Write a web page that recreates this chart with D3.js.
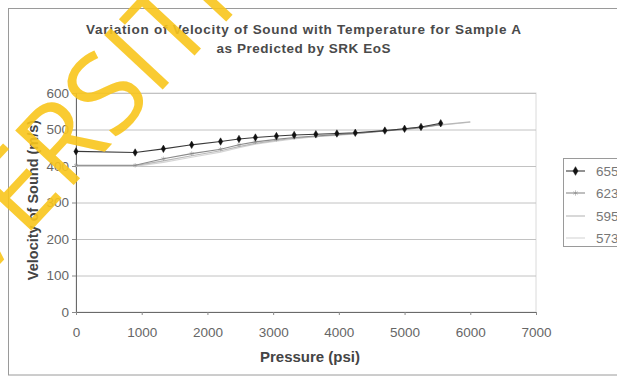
<!DOCTYPE html>
<html>
<head>
<meta charset="utf-8">
<script src="https://cdn.jsdelivr.net/npm/d3@7"></script>
<style>
  body { margin: 0; background: #fff; }
  svg { display: block; font-family: "Liberation Sans", Arial, sans-serif; }
</style>
</head>
<body>
<svg id="chart" width="617" height="377"></svg>
<script>
// pressures (psi)
const pressureA = [0, 900, 1330, 1760, 2200, 2480, 2730, 3050, 3320, 3650, 3970, 4250, 4700, 5000, 5250, 5550];
const pressureB = [0, 900, 1330, 1760, 2200, 2480, 2730, 3050, 3320, 3650, 3970, 4250, 4700, 5000, 5500, 6000];

// velocity of sound (m/s) per temperature
const v655 = [440, 437, 447, 458, 467, 474, 478, 482, 485, 487, 489, 491, 497, 502, 507, 517];
const v623 = [402, 402, 420, 434, 446, 458, 466, 473, 478, 482, 486, 489, 496, 500, 505, 514];
const v595 = [401, 401, 414, 428, 442, 453, 462, 470, 476, 481, 485, 489, 497, 502, 512, 521];
const v573 = [399, 399, 410, 424, 438, 450, 460, 468, 474, 480, 484, 488, 496, 501, 511, 520];

const seriesNames = ["655 R", "623 R", "595 R", "573 R"];
const titleLines = ["Variation of Velocity of Sound with Temperature for Sample A", "as Predicted by SRK EoS"];
const xTicks = [0, 1000, 2000, 3000, 4000, 5000, 6000, 7000];
const yTicks = [0, 100, 200, 300, 400, 500, 600];

const series = [
  { name: seriesNames[0], p: pressureA, v: v655, color: "#3a3a3a", marker: d3.symbolDiamond, mcolor: "#111", msize: 16 },
  { name: seriesNames[1], p: pressureA, v: v623, color: "#8a8a8a", marker: d3.symbolAsterisk || d3.symbolCross, mcolor: "#888", msize: 14 },
  { name: seriesNames[2], p: pressureB, v: v595, color: "#b8b8b8", marker: null },
  { name: seriesNames[3], p: pressureB, v: v573, color: "#d6d6d6", marker: null }
];

const svg = d3.select("#chart");

// outer frame
svg.append("rect").attr("x", 8.5).attr("y", 8.5).attr("width", 640).attr("height", 366.5)
  .attr("fill", "#fff").attr("stroke", "#9a9a9a");

const x = d3.scaleLinear().domain([0, 7000]).range([76, 536]);
const y = d3.scaleLinear().domain([0, 600]).range([312, 93]);

// plot area border
svg.append("rect").attr("x", 76).attr("y", 93).attr("width", 460).attr("height", 219)
  .attr("fill", "none").attr("stroke", "#dadada");

// gridlines
svg.append("g").attr("transform", "translate(76,0)")
  .call(d3.axisLeft(y).tickValues(yTicks).tickSize(-460).tickFormat(""))
  .call(g => g.select(".domain").remove())
  .call(g => g.selectAll("line").attr("stroke", "#c2c2c2"));

// axes
const yAxis = svg.append("g").attr("transform", "translate(76,0)")
  .call(d3.axisLeft(y).tickValues(yTicks).tickSize(4).tickPadding(3));
const xAxis = svg.append("g").attr("transform", "translate(0,312)")
  .call(d3.axisBottom(x).tickValues(xTicks).tickSize(3).tickPadding(12).tickFormat(d3.format("d")));
[yAxis, xAxis].forEach(a => {
  a.select(".domain").attr("stroke", "#6a6a6a");
  a.selectAll(".tick line").attr("stroke", "#8a8a8a");
  a.selectAll(".tick text").attr("fill", "#666").style("font-size", "13.5px");
});

// series lines and markers
const line = d3.line().x(d => x(d[0])).y(d => y(d[1]));
series.slice().reverse().forEach(s => {
  const pts = s.p.map((p, i) => [p, s.v[i]]);
  svg.append("path").datum(pts).attr("d", line)
    .attr("fill", "none").attr("stroke", s.color).attr("stroke-width", 1.1);
  if (s.marker) {
    svg.append("g").selectAll("path").data(pts).join("path")
      .attr("transform", d => `translate(${x(d[0])},${y(d[1])})`)
      .attr("d", d3.symbol().type(s.marker).size(s.msize))
      .attr("fill", s.mcolor).attr("stroke", s.mcolor).attr("stroke-width", 0.5);
  }
});

// titles
svg.append("g").selectAll("text").data(titleLines).join("text")
  .attr("x", (d, i) => i ? 86 + (435 - 174) / 2 : 86).attr("y", (d, i) => 34 + i * 19)
  .attr("textLength", (d, i) => i ? 174 : 435).attr("lengthAdjust", "spacing")
  .attr("fill", "#4a4a4a")
  .style("font-size", "13.5px").style("font-weight", "bold").text(d => d);

svg.append("text").attr("x", 310).attr("y", 362).attr("text-anchor", "middle")
  .attr("fill", "#444").style("font-size", "15px").style("font-weight", "bold").text("Pressure (psi)");

svg.append("text").attr("transform", "translate(38,200) rotate(-90)").attr("text-anchor", "middle")
  .attr("fill", "#444").style("font-size", "14.5px").style("font-weight", "bold").text("Velocity of Sound (m/s)");

// legend
const legend = svg.append("g");
legend.append("rect").attr("x", 563.5).attr("y", 158.5).attr("width", 80).attr("height", 88)
  .attr("fill", "#fff").attr("stroke", "#9a9a9a");
const ly = [171, 193, 216, 238];
series.forEach((s, i) => {
  legend.append("line").attr("x1", 566).attr("x2", 585).attr("y1", ly[i]).attr("y2", ly[i])
    .attr("stroke", s.color).attr("stroke-width", 1.1);
  if (s.marker) {
    legend.append("path").attr("transform", `translate(575.5,${ly[i]})`)
      .attr("d", d3.symbol().type(s.marker).size(s.msize + 6))
      .attr("fill", s.mcolor).attr("stroke", s.mcolor).attr("stroke-width", 0.5);
  }
  legend.append("text").attr("x", 596).attr("y", ly[i] + 5).attr("fill", "#777")
    .style("font-size", "13.5px").text(s.name);
});

// watermark of the source document; centre of the "I" after "S" sits on the anchor point
const wm = svg.append("g").attr("transform", "translate(166,86) rotate(-47)")
  .append("text").attr("x", 0).attr("y", 0)
  .attr("fill", "#f8c51c").attr("fill-opacity", 0.9)
  .style("font-family", "'Open Sans', 'DejaVu Sans', sans-serif")
  .style("font-weight", 400)
  .style("font-size", "112px").text("UNIVERSITI TEKNOLOGI PETRONAS");
const n = wm.node();
const iMid = (n.getStartPositionOfChar(7).x + n.getEndPositionOfChar(7).x) / 2;
wm.attr("x", -iMid);
</script>
</body>
</html>
